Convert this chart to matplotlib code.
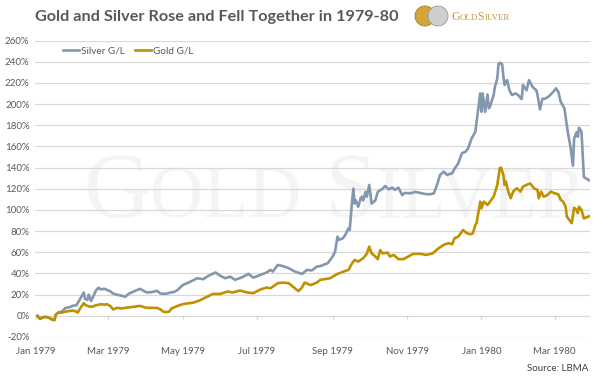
import matplotlib
matplotlib.use('Agg')
import matplotlib.pyplot as plt
import matplotlib.dates as mdates
from matplotlib.patches import Ellipse
import pandas as pd

# Days counted from 1 Jan 1979, values are gain/loss in percent
START = pd.Timestamp('1979-01-01')

silver_days = [1, 3, 7, 10, 13, 15, 16, 18, 21, 24, 27, 30, 33, 34, 36, 39, 40, 42, 43, 45,
               47, 49, 51, 53, 56, 58, 61, 63, 66, 70, 73, 76, 80, 83, 85, 89, 91, 95, 99, 102,
               104, 107, 110, 113, 116, 120, 126, 132, 137, 141, 147, 151, 155, 159, 163, 169, 174, 178, 184, 189,
               192, 194, 198, 202, 207, 212, 218, 222, 226, 230, 233, 239, 243, 245, 247, 248, 251, 253, 256, 257,
               259, 260, 261, 262, 264, 266, 267, 268, 270, 271, 273, 275, 278, 280, 284, 286, 289, 292, 294, 297,
               300, 302, 307, 311, 315, 319, 323, 326, 329, 331, 334, 337, 339, 341, 343, 346, 349, 352, 354, 357,
               360, 361, 364, 365, 366, 368, 370, 371, 372, 375, 376, 378, 379, 380, 382, 383, 384, 386, 388, 390,
               393, 395, 398, 399, 402, 404, 407, 410, 411, 413, 415, 417, 420, 424, 426, 428, 430, 433, 434, 436,
               438, 440, 441, 443, 444, 445, 447, 448, 449, 452, 453]
silver_gl = [0, -2, -1, -1.5, -3.5, -4, 1, 3, 4, 7.5, 8, 9.5, 10, 12, 16, 22, 16, 15, 20, 14,
             19, 24, 26.5, 25, 25.5, 24.5, 23, 21, 20, 19, 18, 21, 23, 24.5, 25.5, 23, 22, 22.5, 23.6, 21,
             20.8, 21, 22, 22.5, 24.5, 29, 32, 35.5, 34.6, 37.7, 40.9, 37.7, 35.5, 37, 34, 36.5, 39.6, 36, 38.7, 41,
             43.4, 41.8, 48, 47, 45, 41.8, 39.6, 43.4, 42.8, 46.5, 47, 49.7, 56, 60.7, 74.8, 71.7, 73, 75.5, 82.7, 81,
             109, 120, 106, 109, 103, 111, 112.5, 109, 117, 112.5, 123.6, 106, 109, 117, 120, 122.6, 119.5, 121, 118.9, 121,
             114, 116, 115.7, 117, 116, 115, 114.8, 115.7, 125, 133, 136, 133, 134, 134.6, 139, 144, 153.5, 155, 158, 167.6,
             173.9, 183, 210, 192.7, 210, 192.7, 209, 196, 197.5, 208.5, 216, 224, 238, 239, 237.5, 225.8, 218, 222.6, 213, 208.5,
             210, 208.5, 204.7, 218, 213, 222.6, 216, 213, 208.5, 195, 205, 205, 207, 211.6, 214.8, 211.6, 202, 196, 188, 172,
             159.7, 141.8, 167.6, 173.3, 169, 177.6, 173.9, 152, 131, 129, 128]

gold_days = [1, 3, 7, 10, 13, 15, 16, 18, 21, 24, 27, 30, 33, 34, 36, 39, 40, 42, 43, 45,
             47, 49, 51, 53, 56, 58, 61, 63, 66, 70, 73, 76, 80, 83, 85, 89, 91, 95, 99, 102,
             104, 107, 109, 111, 116, 120, 129, 134, 140, 145, 151, 157, 161, 167, 173, 178, 184, 189, 192, 198,
             202, 207, 211, 215, 218, 220, 225, 230, 233, 241, 247, 252, 256, 259, 261, 264, 268, 271, 273, 275,
             278, 280, 282, 284, 288, 290, 293, 297, 301, 305, 309, 315, 320, 325, 330, 334, 338, 341, 343, 346,
             350, 353, 356, 358, 360, 361, 364, 365, 367, 370, 372, 375, 378, 380, 381, 383, 384, 385, 387, 389,
             391, 394, 397, 399, 402, 405, 408, 411, 412, 414, 416, 419, 422, 425, 428, 430, 432, 434, 435, 438,
             439, 441, 443, 444, 445, 447, 449, 452, 453]
gold_gl = [0, -3, -1, -1.5, -3.5, -4, 1, 3, 3, 4, 4.5, 5, 4, 3, 7, 12, 10.5, 9.4, 9, 8.5,
           9, 10, 10.4, 11, 10.5, 11, 9, 6, 7.5, 7, 7.5, 8, 8.5, 9, 9.4, 8, 7.5, 7.5, 7.5, 6,
           4, 3.5, 4, 7, 9.4, 11, 12.5, 14.5, 18, 20.7, 20.7, 23, 22, 23.9, 22, 21.4, 25, 26.7, 26, 30.8,
           31.4, 30.8, 27, 23.3, 27, 31.4, 29, 31.4, 34, 35.5, 39.6, 41.8, 43.4, 49.7, 52.8, 51.2, 54.4, 58.5, 65.4, 59,
           56, 53.5, 62, 59, 59.7, 56, 57.5, 53.5, 53.5, 56, 58.5, 58.5, 57.5, 59, 63.9, 67, 68.6, 67.6, 73.3, 74.8,
           81, 78, 77, 78, 85.8, 87.5, 107.8, 101.6, 107.8, 104.7, 107.8, 112.5, 123.6, 139.3, 140, 133, 123.6, 126.7, 117.3, 111,
           117.3, 120.5, 117.3, 122, 123.6, 125, 120.5, 118.9, 111, 117.3, 112.5, 114, 117.3, 115.7, 114.8, 109.4, 107.8, 103, 93.7, 89,
           87.5, 102, 100, 97, 103, 100, 92, 93.4, 94]

tick_dates = ['1979-01-01', '1979-03-01', '1979-05-01', '1979-07-01',
              '1979-09-01', '1979-11-01', '1980-01-01', '1980-03-01']
y_ticks = list(range(-20, 261, 20))

SILVER = '#8497B0'
GOLD = '#BF9000'
GREY = '#595959'
W, H = 594, 378

plt.rcParams['font.family'] = ['Lato', 'DejaVu Sans']

fig = plt.figure(figsize=(W / 100, H / 100), dpi=100)
ax = fig.add_axes([35 / W, 1 - 337 / H, 555 / W, 296.5 / H])
ax.patch.set_visible(False)

silver_x = START + pd.to_timedelta(silver_days, unit='D')
gold_x = START + pd.to_timedelta(gold_days, unit='D')
ax.plot(silver_x, silver_gl, color=SILVER, lw=1.9, label='Silver G/L', solid_joinstyle='round')
ax.plot(gold_x, gold_gl, color=GOLD, lw=1.9, label='Gold G/L', solid_joinstyle='round')

ticks = pd.to_datetime(tick_dates)
ax.set_xlim(START - pd.Timedelta(days=1), START + pd.Timedelta(days=454))
ax.set_ylim(-20, 260)
ax.set_xticks(ticks)
ax.xaxis.set_major_formatter(mdates.DateFormatter('%b %Y'))
ax.set_yticks(y_ticks)
ax.set_yticklabels([f'{v}%' for v in y_ticks])
ax.tick_params(axis='both', length=0, labelsize=7, labelcolor=GREY)
ax.tick_params(axis='x', pad=7)
ax.tick_params(axis='y', pad=4)
ax.yaxis.grid(True, color='#d9d9d9', lw=0.9)
ax.set_axisbelow(True)
for s in ax.spines.values():
    s.set_visible(False)
# small tick marks hanging from the 0% line
ax.vlines(ticks, -2.8, 0, color='#d0d0d0', lw=0.8, zorder=1)

leg = ax.legend(loc='upper left', bbox_to_anchor=(0.035, 1.01), ncol=2, frameon=False,
                fontsize=7.2, handlelength=1.6, handletextpad=0.2, columnspacing=1.0)
for t in leg.get_texts():
    t.set_color(GREY)

renderer = fig.canvas.get_renderer()


def caps_text(parts, x, y, color, family, zorder, weight='normal'):
    # write small-caps style text piece by piece, x/y in pixels from top-left
    for s, size in parts:
        t = fig.text(x / W, 1 - y / H, s, fontsize=size, color=color, family=family,
                     weight=weight, ha='left', va='baseline', zorder=zorder)
        x += t.get_window_extent(renderer=renderer).width


# background watermark
caps_text([('G', 67), ('OLD', 53), (' S', 67), ('ILVER', 53)], 83, 217,
          '#f4f4f4', 'Liberation Serif', -5)

# title
fig.text(35 / W, 1 - 21 / H, 'Gold and Silver Rose and Fell Together in 1979-80',
         fontsize=11.7, weight='bold', color=GREY, ha='left', va='baseline')

# logo: two coins and the name
fig.add_artist(Ellipse((425 / W, 1 - 16 / H), 20 / W, 20 / H, transform=fig.transFigure,
                       facecolor='#d4a53a', edgecolor='#a8801e', lw=0.6))
fig.add_artist(Ellipse((438 / W, 1 - 16 / H), 20 / W, 20 / H, transform=fig.transFigure,
                       facecolor='#cfcfcf', edgecolor='#9a9a9a', lw=0.6))
caps_text([('G', 8.5), ('OLD', 6.4), ('S', 8.5), ('ILVER', 6.4)], 451, 20,
          '#c49a3a', 'Liberation Serif', 5)

fig.text(588 / W, 1 - 371 / H, 'Source: LBMA', fontsize=7, color='#404040',
         ha='right', va='baseline')

fig.savefig('out.png', dpi=100)
